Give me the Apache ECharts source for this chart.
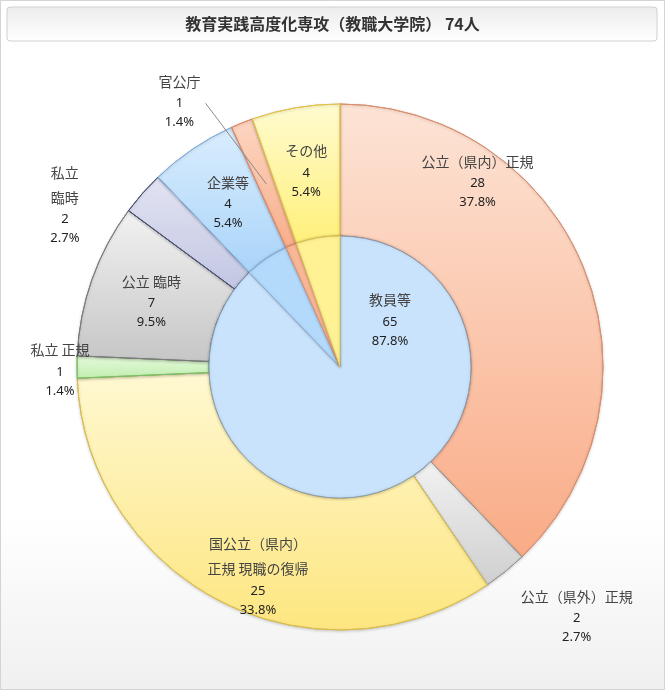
<!DOCTYPE html>
<html>
<head>
<meta charset="utf-8">
<script src="https://cdn.jsdelivr.net/npm/echarts@6/dist/echarts.min.js"></script>
<style>
  html, body { margin: 0; padding: 0; }
  #main { width: 665px; height: 690px; }
</style>
</head>
<body>
<div id="main"></div>
<script>
// 外側の内訳
const names = ["公立（県内）正規", "公立（県外）正規", "国公立（県内）\n正規 現職の復帰", "私立 正規", "公立 臨時", "私立\n臨時", "企業等", "官公庁", "その他"];
const values = [28, 2, 25, 1, 7, 2, 4, 1, 4];
// 内側（教員等 + 教員以外）
const innerNames = ["教員等", "企業等", "官公庁", "その他"];
const innerValues = [65, 4, 1, 4];
const total = values.reduce((a, b) => a + b, 0);

// 色 [上, 下, 枠]
const palette = [
  ["#fde4d6", "#f9ab86", "#d99070"],
  ["#f2f2f2", "#cfcfcf", "#9a9a9a"],
  ["#fff8d2", "#fde680", "#d8bd50"],
  ["#e6fadc", "#c2eeb0", "#7cbf68"],
  ["#f2f2f2", "#c6c6c6", "#7a7a7a"],
  ["#e2e4f2", "#c2c6e2", "#4a4e70"],
  ["#daedfd", "#a9d4f9", "#86aeda"],
  ["#fdd6c2", "#f8ae8a", "#e08a68"],
  ["#fffbd0", "#fff07a", "#e0c450"]
];
const innerColor = ["#c9e3fc", "#b3d9fb", "#f9b796", "#fff294"];
const innerBorder = ["#7f97b3", "#86aeda", "#e08a68", "#e0c450"];

// ラベルの位置調整（スライス中央からのずれ）
const labelShift = { 0: [-48, -112], 1: [111, 93], 2: [8, 30], 3: [-80, 2], 5: [-125, -31], 7: [-86, -81] };

const CX = 340, CY = 367, R0 = 131, R1 = 263;

function grad(c) {
  return new echarts.graphic.LinearGradient(0, 0, 0, 1, [
    { offset: 0, color: c[0] }, { offset: 1, color: c[1] }
  ]);
}

function fmt(p) {
  return "{n|" + p.name + "}\n{v|" + p.value + "\n" + (p.value / total * 100).toFixed(1) + "%}";
}

const outerData = names.map((n, i) => {
  const item = {
    name: n, value: values[i],
    itemStyle: { color: grad(palette[i]), borderColor: palette[i][2], borderWidth: 1 }
  };
  if (labelShift[i]) item.label = { offset: labelShift[i] };
  return item;
});

const innerData = innerNames.map((n, i) => ({
  name: n, value: innerValues[i],
  itemStyle: { color: innerColor[i], borderWidth: 0.8, borderColor: innerBorder[i] },
  label: { show: i === 0 }
}));

// 官公庁の引出線：スライス中央からラベルまで
const kIdx = 7;
const before = values.slice(0, kIdx).reduce((a, b) => a + b, 0);
const midA = (before + values[kIdx] / 2) / total * Math.PI * 2;
const rMid = (R0 + R1) / 2;
const anchor = [CX + rMid * Math.sin(midA), CY - rMid * Math.cos(midA)];
const lineStart = [anchor[0] + labelShift[kIdx][0] + 25, anchor[1] + labelShift[kIdx][1]];

const textRich = {
  n: { fontSize: 14, color: "#444", lineHeight: 25, fontFamily: "Noto Sans CJK JP", align: "center" },
  v: { fontSize: 13, color: "#222", lineHeight: 19, fontFamily: "Noto Sans", align: "center" }
};

const option = {
  backgroundColor: new echarts.graphic.LinearGradient(0, 0, 0, 1, [
    { offset: 0, color: "#ffffff" }, { offset: 0.75, color: "#ffffff" }, { offset: 1, color: "#f0f0f0" }
  ]),
  graphic: [
    { type: "rect", shape: { x: 0.5, y: 0.5, width: 664, height: 689 }, style: { fill: "none", stroke: "#d4d4d4" }, silent: true },
    { type: "rect", shape: { x: 7, y: 7, width: 650, height: 34, r: 3 },
      style: { fill: new echarts.graphic.LinearGradient(0, 0, 0, 1, [
        { offset: 0, color: "#ececec" }, { offset: 1, color: "#ffffff" }]), stroke: "#d0d0d0" }, silent: true },
    { type: "line", z: 100, silent: true,
      shape: { x1: lineStart[0], y1: lineStart[1], x2: anchor[0], y2: anchor[1] },
      style: { stroke: "#8a8a8a", lineWidth: 1 } }
  ],
  title: {
    text: "教育実践高度化専攻（教職大学院） 74人",
    left: "center", top: 11,
    textStyle: { fontSize: 16, fontWeight: "bold", color: "#333", fontFamily: "Noto Sans CJK JP" }
  },
  series: [
    {
      name: "内訳",
      type: "pie",
      center: [CX, CY],
      radius: [R0, R1],
      startAngle: 90,
      clockwise: true,
      avoidLabelOverlap: false,
      itemStyle: { shadowBlur: 3, shadowColor: "rgba(0,0,0,0.15)", shadowOffsetY: 1 },
      label: { position: "inside", formatter: fmt, rich: textRich, align: "center" },
      labelLine: { show: false },
      emphasis: { disabled: true },
      data: outerData
    },
    {
      name: "教員等",
      type: "pie",
      center: [CX, CY],
      radius: [0, R0],
      startAngle: 90,
      clockwise: true,
      itemStyle: { shadowBlur: 3, shadowColor: "rgba(0,0,0,0.2)" },
      label: { position: "center", offset: [50, -48], formatter: fmt, rich: textRich },
      labelLine: { show: false },
      emphasis: { disabled: true },
      data: innerData
    }
  ]
};

const chart = echarts.init(document.getElementById("main"));
chart.setOption(option);
</script>
</body>
</html>
